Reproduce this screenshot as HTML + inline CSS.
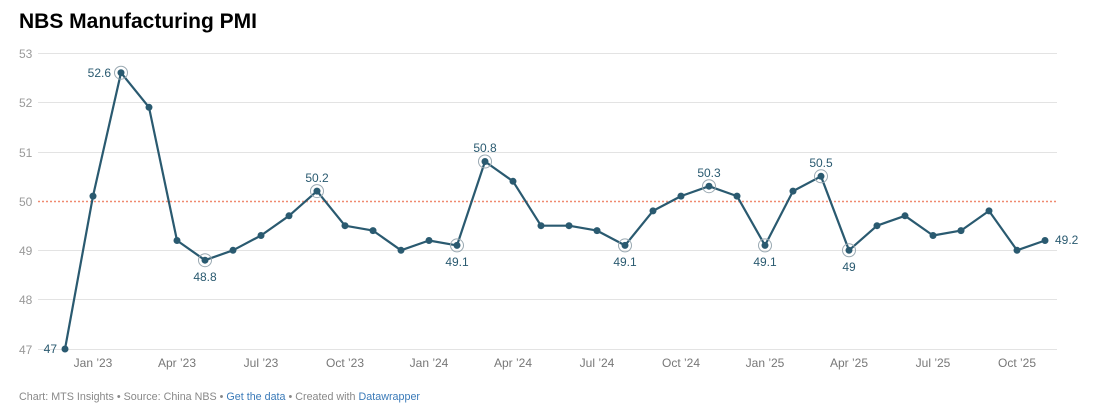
<!DOCTYPE html>
<html><head><meta charset="utf-8"><style>
html,body{margin:0;padding:0;background:#fff;width:1095px;height:408px;overflow:hidden;font-family:"Liberation Sans",Arial,sans-serif}
</style></head><body>
<svg width="1095" height="408" xmlns="http://www.w3.org/2000/svg" font-family="Liberation Sans, Arial, sans-serif">
<text x="19" y="28" font-size="21" font-weight="bold" fill="#000" textLength="238" lengthAdjust="spacingAndGlyphs">NBS Manufacturing PMI</text>
<g stroke="#e3e3e3" stroke-width="1">
<line x1="38" x2="1057" y1="53.5" y2="53.5"/>
<line x1="38" x2="1057" y1="102.5" y2="102.5"/>
<line x1="38" x2="1057" y1="152.5" y2="152.5"/>
<line x1="38" x2="1057" y1="250.5" y2="250.5"/>
<line x1="38" x2="1057" y1="299.5" y2="299.5"/>
<line x1="38" x2="1057" y1="349.5" y2="349.5"/>
</g>
<line x1="38" x2="1057" y1="201.5" y2="201.5" stroke="#f08a70" stroke-width="1.5" stroke-dasharray="2,2"/>
<g font-size="12" fill="#999">
<text x="19" y="58">53</text><text x="19" y="107">52</text><text x="19" y="157">51</text>
<text x="19" y="206">50</text><text x="19" y="255">49</text><text x="19" y="304">48</text><text x="19" y="354">47</text>
</g>
<g font-size="12" fill="#777" text-anchor="middle">
<text x="93" y="367">Jan ’23</text><text x="177" y="367">Apr ’23</text><text x="261" y="367">Jul ’23</text><text x="345" y="367">Oct ’23</text>
<text x="429" y="367">Jan ’24</text><text x="513" y="367">Apr ’24</text><text x="597" y="367">Jul ’24</text><text x="681" y="367">Oct ’24</text>
<text x="765" y="367">Jan ’25</text><text x="849" y="367">Apr ’25</text><text x="933" y="367">Jul ’25</text><text x="1017" y="367">Oct ’25</text>
</g>
<polyline fill="none" stroke="#2a5a70" stroke-width="2.2" stroke-linejoin="round" points="65,349 93,196.1 121,72.7 149,107.3 177,240.5 205,260.2 233,250.3 261,235.5 289,215.8 317,191.1 345,225.7 373,230.6 401,250.3 429,240.5 457,245.4 485,161.5 513,181.3 541,225.7 569,225.7 597,230.6 625,245.4 653,210.9 681,196.1 709,186.2 737,196.1 765,245.4 793,191.1 821,176.3 849,250.3 877,225.7 905,215.8 933,235.5 961,230.6 989,210.9 1017,250.3 1045,240.5"/>
<g fill="#2a5a70">
<circle cx="65" cy="349" r="3.5"/><circle cx="93" cy="196.1" r="3.5"/><circle cx="121" cy="72.7" r="3.5"/><circle cx="149" cy="107.3" r="3.5"/><circle cx="177" cy="240.5" r="3.5"/><circle cx="205" cy="260.2" r="3.5"/><circle cx="233" cy="250.3" r="3.5"/><circle cx="261" cy="235.5" r="3.5"/><circle cx="289" cy="215.8" r="3.5"/><circle cx="317" cy="191.1" r="3.5"/><circle cx="345" cy="225.7" r="3.5"/><circle cx="373" cy="230.6" r="3.5"/><circle cx="401" cy="250.3" r="3.5"/><circle cx="429" cy="240.5" r="3.5"/><circle cx="457" cy="245.4" r="3.5"/><circle cx="485" cy="161.5" r="3.5"/><circle cx="513" cy="181.3" r="3.5"/><circle cx="541" cy="225.7" r="3.5"/><circle cx="569" cy="225.7" r="3.5"/><circle cx="597" cy="230.6" r="3.5"/><circle cx="625" cy="245.4" r="3.5"/><circle cx="653" cy="210.9" r="3.5"/><circle cx="681" cy="196.1" r="3.5"/><circle cx="709" cy="186.2" r="3.5"/><circle cx="737" cy="196.1" r="3.5"/><circle cx="765" cy="245.4" r="3.5"/><circle cx="793" cy="191.1" r="3.5"/><circle cx="821" cy="176.3" r="3.5"/><circle cx="849" cy="250.3" r="3.5"/><circle cx="877" cy="225.7" r="3.5"/><circle cx="905" cy="215.8" r="3.5"/><circle cx="933" cy="235.5" r="3.5"/><circle cx="961" cy="230.6" r="3.5"/><circle cx="989" cy="210.9" r="3.5"/><circle cx="1017" cy="250.3" r="3.5"/><circle cx="1045" cy="240.5" r="3.5"/>
</g>
<g fill="none" stroke="#9aa9b2" stroke-width="1">
<circle cx="121" cy="72.7" r="6.5"/><circle cx="205" cy="260.2" r="6.5"/><circle cx="317" cy="191.1" r="6.5"/><circle cx="457" cy="245.4" r="6.5"/><circle cx="485" cy="161.5" r="6.5"/><circle cx="625" cy="245.4" r="6.5"/><circle cx="709" cy="186.2" r="6.5"/><circle cx="765" cy="245.4" r="6.5"/><circle cx="821" cy="176.3" r="6.5"/><circle cx="849" cy="250.3" r="6.5"/>
</g>
<g font-size="12" fill="#2a5a70">
<text x="111" y="77" text-anchor="end">52.6</text>
<text x="205" y="281" text-anchor="middle">48.8</text>
<text x="317" y="182" text-anchor="middle">50.2</text>
<text x="457" y="266" text-anchor="middle">49.1</text>
<text x="485" y="152" text-anchor="middle">50.8</text>
<text x="625" y="266" text-anchor="middle">49.1</text>
<text x="709" y="177" text-anchor="middle">50.3</text>
<text x="765" y="266" text-anchor="middle">49.1</text>
<text x="821" y="167" text-anchor="middle">50.5</text>
<text x="849" y="271" text-anchor="middle">49</text>
<text x="1055" y="244">49.2</text>
<text x="57" y="353" text-anchor="end">47</text>
</g>
<text x="19" y="400" font-size="11" fill="#888" textLength="401" lengthAdjust="spacingAndGlyphs">Chart: MTS Insights • Source: China NBS • <tspan fill="#3a7ab8">Get the data</tspan> • Created with <tspan fill="#3a7ab8">Datawrapper</tspan></text>
</svg>
</body></html>
